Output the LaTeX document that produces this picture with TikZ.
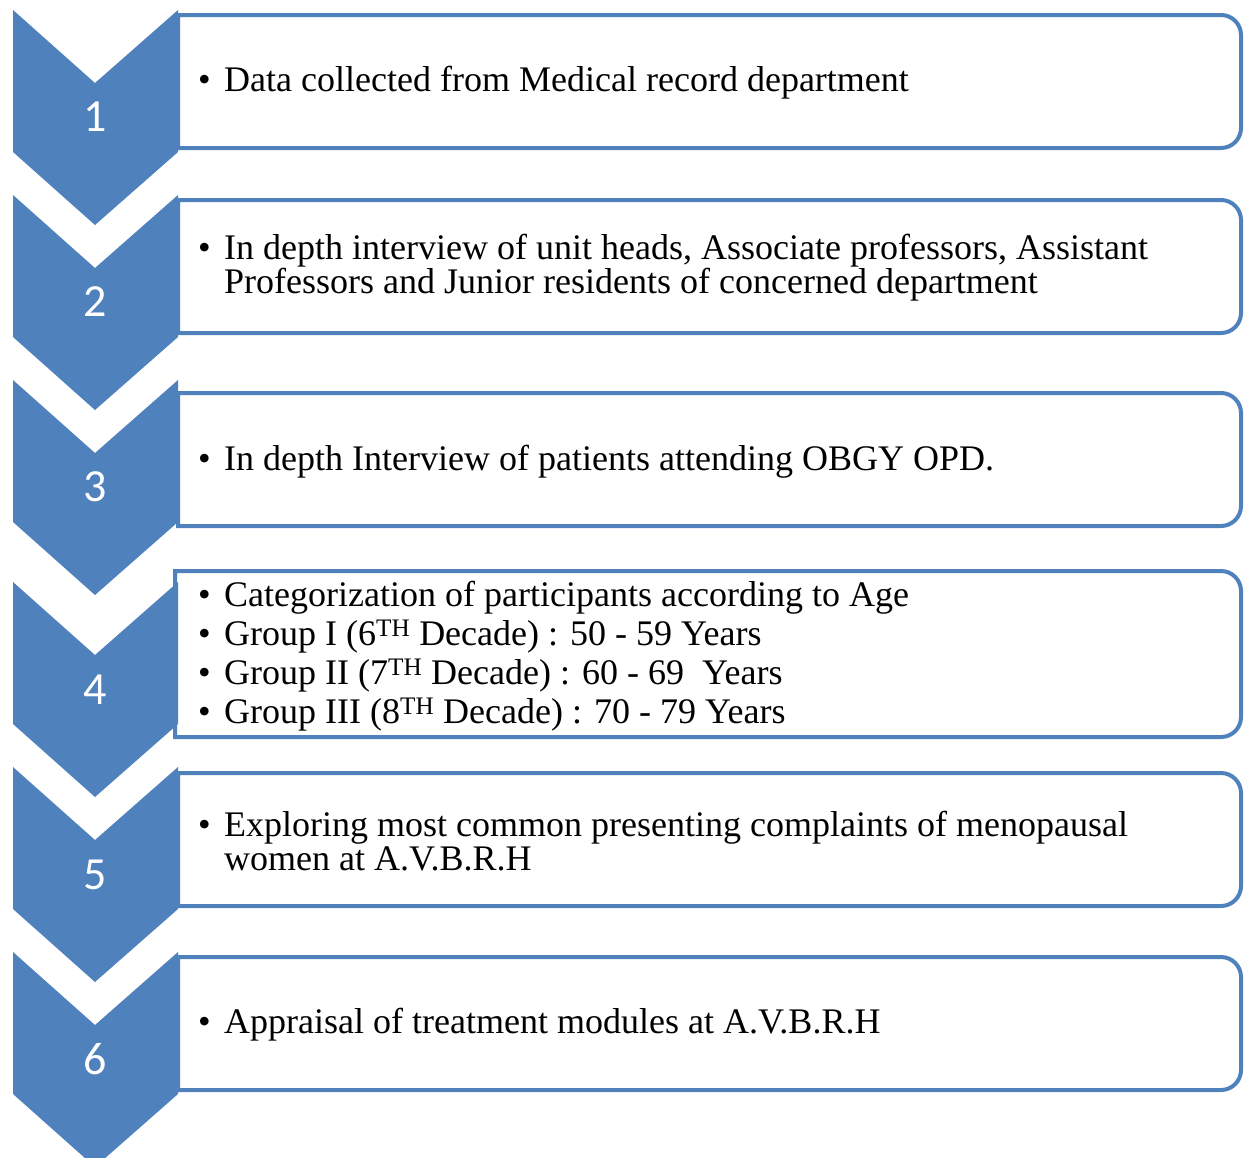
\documentclass[tikz,border=0pt]{standalone}
\usepackage{fontspec}
\setmainfont{Liberation Serif}
\newfontfamily\numfont{Carlito}
\definecolor{stepblue}{HTML}{4F81BD}
\newcommand{\bul}{\makebox[26pt][l]{\textbullet}}
\newcommand{\indt}{\hspace*{26pt}}

\begin{document}
\begin{tikzpicture}[x=1pt, y=-1pt]
    % --- Style Definitions ---
    \tikzset{
        step box/.style={
            draw=stepblue,
            line width=4pt,
            fill=white
        },
        chevron/.style={
            fill=stepblue
        },
        step number/.style={
            font=\numfont\fontsize{46}{46}\selectfont,
            text=white
        },
        step text/.style={
            anchor=west,
            inner sep=0pt,
            align=left,
            font=\fontsize{36}{34}\selectfont
        }
    }

    \useasboundingbox (0,0) rectangle (1247,1157);

    % --- 1. Boxes ---
    \draw[step box] (178,15) [rounded corners=20] -- (1241,15) -- (1241,148) [sharp corners] -- (178,148) -- cycle;
    \draw[step box] (178,200) [rounded corners=20] -- (1241,200) -- (1241,333) [sharp corners] -- (178,333) -- cycle;
    \draw[step box] (178,393) [rounded corners=20] -- (1241,393) -- (1241,526) [sharp corners] -- (178,526) -- cycle;
    \draw[step box] (175,571) [rounded corners=20] -- (1241,571) -- (1241,737) [sharp corners] -- (175,737) -- cycle;
    \draw[step box] (178,773) [rounded corners=20] -- (1241,773) -- (1241,906) [sharp corners] -- (178,906) -- cycle;
    \draw[step box] (178,957) [rounded corners=20] -- (1241,957) -- (1241,1090) [sharp corners] -- (178,1090) -- cycle;

    % --- 2. Chevrons ---
    \fill[chevron] (13,10) -- ++(82,73) -- ++(83,-73) -- ++(0,142) -- ++(-83,73) -- ++(-82,-73) -- cycle;
    \fill[chevron] (13,195) -- ++(82,73) -- ++(83,-73) -- ++(0,142) -- ++(-83,73) -- ++(-82,-73) -- cycle;
    \fill[chevron] (13,380) -- ++(82,73) -- ++(83,-73) -- ++(0,142) -- ++(-83,73) -- ++(-82,-73) -- cycle;
    \fill[chevron] (13,582) -- ++(82,73) -- ++(83,-73) -- ++(0,142) -- ++(-83,73) -- ++(-82,-73) -- cycle;
    \fill[chevron] (13,767) -- ++(82,73) -- ++(83,-73) -- ++(0,142) -- ++(-83,73) -- ++(-82,-73) -- cycle;
    \fill[chevron] (13,952) -- ++(82,73) -- ++(83,-73) -- ++(0,142) -- ++(-83,73) -- ++(-82,-73) -- cycle;

    % --- 3. Step Numbers ---
    \node[step number] (num1) at (95,117) {1};
    \node[step number] (num2) at (95,302) {2};
    \node[step number] (num3) at (95,487) {3};
    \node[step number] (num4) at (95,690) {4};
    \node[step number] (num5) at (95,875) {5};
    \node[step number] (num6) at (95,1059) {6};

    % --- 4. Step Texts ---
    \node[step text] (txt1) at (198,83) {\bul Data collected from Medical record department};
    \node[step text] (txt2) at (198,268) {\bul In depth interview of unit heads, Associate professors, Assistant\\
        \indt Professors and Junior residents of concerned department};
    \node[step text] (txt3) at (198,462) {\bul In depth Interview of patients attending OBGY OPD.};
    \node[step text] (txt4) at (198,656) {\bul Categorization of participants according to Age\\[5pt]
        \bul Group I (6\textsuperscript{TH} Decade) : 50 - 59 Years\\[5pt]
        \bul Group II (7\textsuperscript{TH} Decade) : 60 - 69~ Years\\[5pt]
        \bul Group III (8\textsuperscript{TH} Decade) : 70 - 79 Years};
    \node[step text] (txt5) at (198,841) {\bul Exploring most common presenting complaints of menopausal\\
        \indt women at A.V.B.R.H};
    \node[step text] (txt6) at (198,1025) {\bul Appraisal of treatment modules at A.V.B.R.H};

\end{tikzpicture}
\end{document}
